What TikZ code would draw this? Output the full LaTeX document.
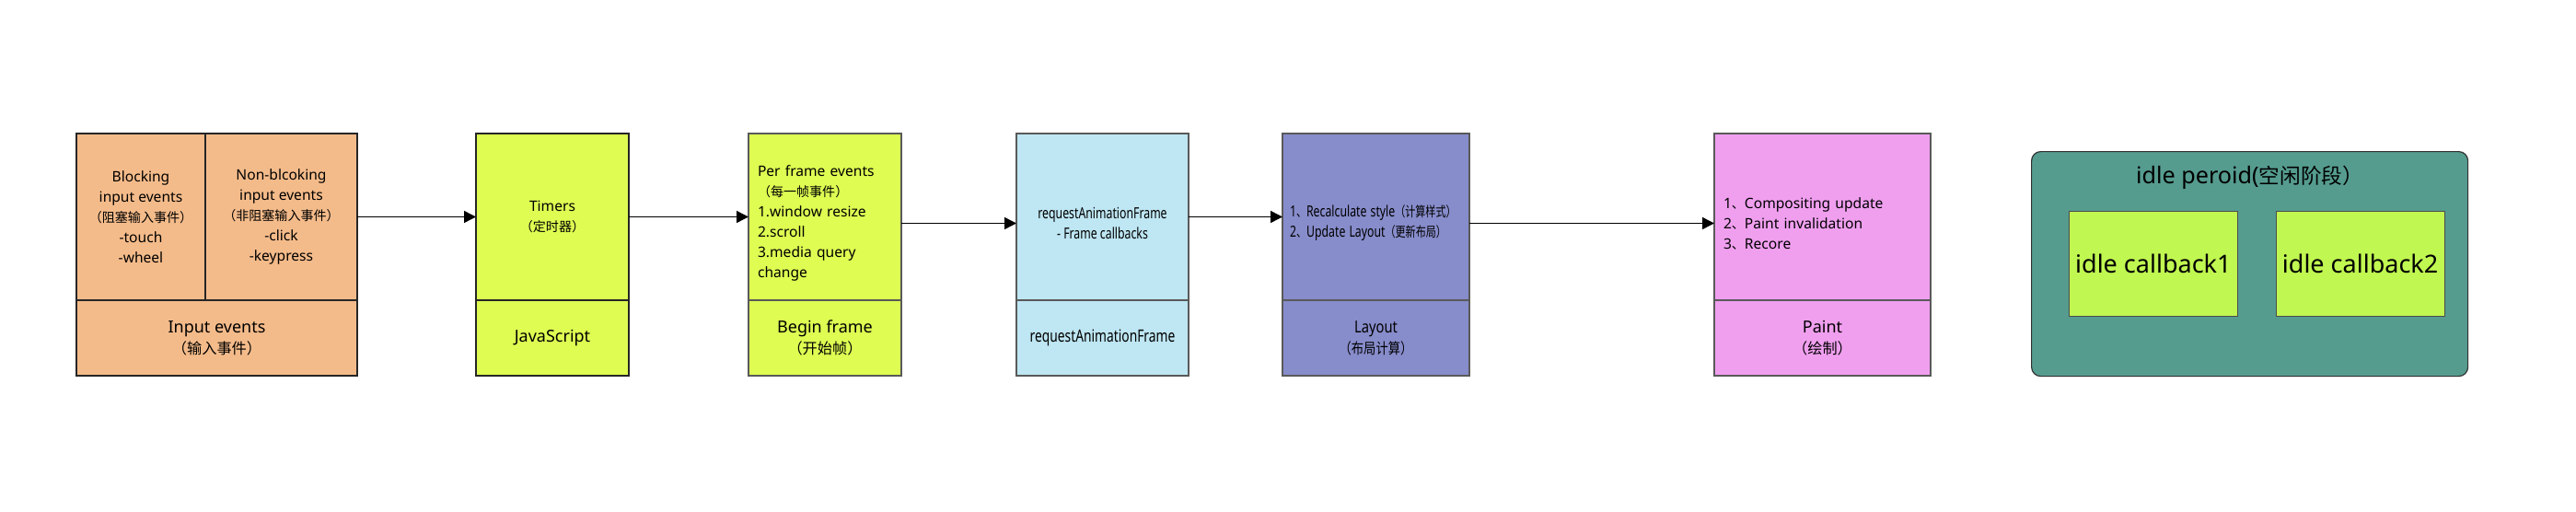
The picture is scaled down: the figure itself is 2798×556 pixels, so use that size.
\documentclass[tikz,border=0pt]{standalone}
\usepackage{fontspec}
\setmainfont{Noto Sans}
\newfontfamily\cjkfont{Noto Sans CJK SC}[Scale=0.9]
\usepackage{graphicx}
\usepackage{tikz}
\usetikzlibrary{positioning, arrows.meta}

\definecolor{inputc}{HTML}{F4BB8A}
\definecolor{jsc}{HTML}{DEFC52}
\definecolor{rafc}{HTML}{BEE6F3}
\definecolor{layc}{HTML}{878CCB}
\definecolor{paintc}{HTML}{F09FEF}
\definecolor{idlec}{HTML}{559C8F}
\definecolor{cbc}{HTML}{C0F751}

% narrow lines, as the condensed face in the rAF and Layout boxes
\newcommand{\narrowtxt}[2][0.74]{\scalebox{#1}[1]{#2}}
% pushes a text block a little below the middle of its cell
\newcommand{\topgap}{\rule{0pt}{13pt}}

\begin{document}
\begin{tikzpicture}[
  x=0.5pt, y=-0.5pt,
  font=\fontsize{7.8}{11}\selectfont,
  cell/.style={draw=black!85, line width=1.3pt, outer sep=0pt, inner sep=0pt,
    align=center},
  upper/.style={cell, minimum height=90.5pt, anchor=north west},
  lower/.style={cell, minimum height=41pt, font=\fontsize{9}{11.5}\selectfont},
  grey/.style={draw=black!65},
  listtxt/.style={align=left, inner xsep=#1},
  cb/.style={draw=black!70, fill=cbc, line width=0.5pt, minimum width=90pt,
    minimum height=57pt, font=\fontsize{13.5}{15}\selectfont},
  arrow/.style={-{Triangle[length=6.5pt, width=6.5pt]}, line width=0.7pt},
]
  \useasboundingbox (0,0) rectangle (2798,556);

  % Input events
  \node[upper, fill=inputc, minimum width=70pt] (blk) at (83,145)
    {Blocking\\input events\\{\cjkfont （阻塞输入事件）}\\-touch\\-wheel};
  \node[cell, fill=inputc, minimum width=82.5pt, minimum height=90.5pt,
    right=0pt of blk] (nblk)
    {Non-blcoking\\input events\\{\cjkfont （非阻塞输入事件）}\\-click\\-keypress};
  \node[lower, fill=inputc, minimum width=152.5pt, anchor=north west]
    (inp) at (blk.south west) {Input events\\{\cjkfont （输入事件）}};

  % JavaScript
  \node[upper, fill=jsc, minimum width=83pt] (tim) at (517,145)
    {Timers\\{\cjkfont （定时器）}};
  \node[lower, fill=jsc, minimum width=83pt, below=0pt of tim] (js)
    {JavaScript};

  % Begin frame
  \node[upper, grey, fill=jsc, listtxt=5pt, text width=73pt] (pfe) at (813,145)
    {\topgap Per frame events\\{\cjkfont （每一帧事件）}\\1.window resize\\2.scroll\\3.media query\\change};
  \node[lower, grey, fill=jsc, minimum width=83pt, below=0pt of pfe] (beg)
    {Begin frame\\{\cjkfont （开始帧）}};

  % requestAnimationFrame
  \node[upper, grey, fill=rafc, minimum width=93.5pt, font=\fontsize{8.3}{11}\selectfont]
    (raf) at (1104,145)
    {\topgap\narrowtxt{requestAnimationFrame}\\\narrowtxt{- Frame callbacks}};
  \node[lower, grey, fill=rafc, minimum width=93.5pt, below=0pt of raf,
    font=\fontsize{9.2}{11.5}\selectfont] (rafb)
    {\narrowtxt[0.75]{requestAnimationFrame}};

  % Layout
  \node[upper, grey, fill=layc, listtxt=4pt, text width=93.5pt,
    font=\fontsize{8.3}{11}\selectfont] (lay) at (1393,145)
    {\topgap\narrowtxt{1{\cjkfont 、}Recalculate style{\cjkfont （计算样式）}}\\
     \narrowtxt{2{\cjkfont 、}Update Layout{\cjkfont （更新布局）}}};
  \node[lower, grey, fill=layc, minimum width=101.5pt, below=0pt of lay] (layb)
    {\narrowtxt[0.82]{Layout}\\\narrowtxt[0.82]{\cjkfont （布局计算）}};

  % Paint
  \node[upper, grey, fill=paintc, listtxt=5pt, text width=107.5pt] (pnt) at (1862,145)
    {\topgap 1{\cjkfont 、}Compositing update\\2{\cjkfont 、}Paint invalidation\\3{\cjkfont 、}Recore};
  \node[lower, grey, fill=paintc, minimum width=117.5pt, below=0pt of pnt] (pntb)
    {Paint\\{\cjkfont （绘制）}};

  % Idle period
  \node[draw=black!80, fill=idlec, line width=0.6pt, rounded corners=5pt,
    minimum width=237pt, minimum height=122pt, anchor=north west] (idle)
    at (2206,164) {};
  \node[font=\fontsize{12.6}{14}\selectfont] (idt) at ([yshift=-14.5pt]idle.north)
    {idle peroid({\cjkfont 空闲阶段）}};
  \node[cb, anchor=north west] (cb1) at (2247,229) {idle callback1};
  \node[cb, right=20.5pt of cb1] (cb2) {idle callback2};

  % Arrows between stages
  \foreach \a/\b/\s in {nblk/tim/0, tim/pfe/0, pfe/raf/-3.5, raf/lay/0, lay/pnt/-3.5}
    \draw[arrow] ([yshift=\s pt]\a.east) -- ([yshift=\s pt]\b.west);
\end{tikzpicture}
\end{document}
